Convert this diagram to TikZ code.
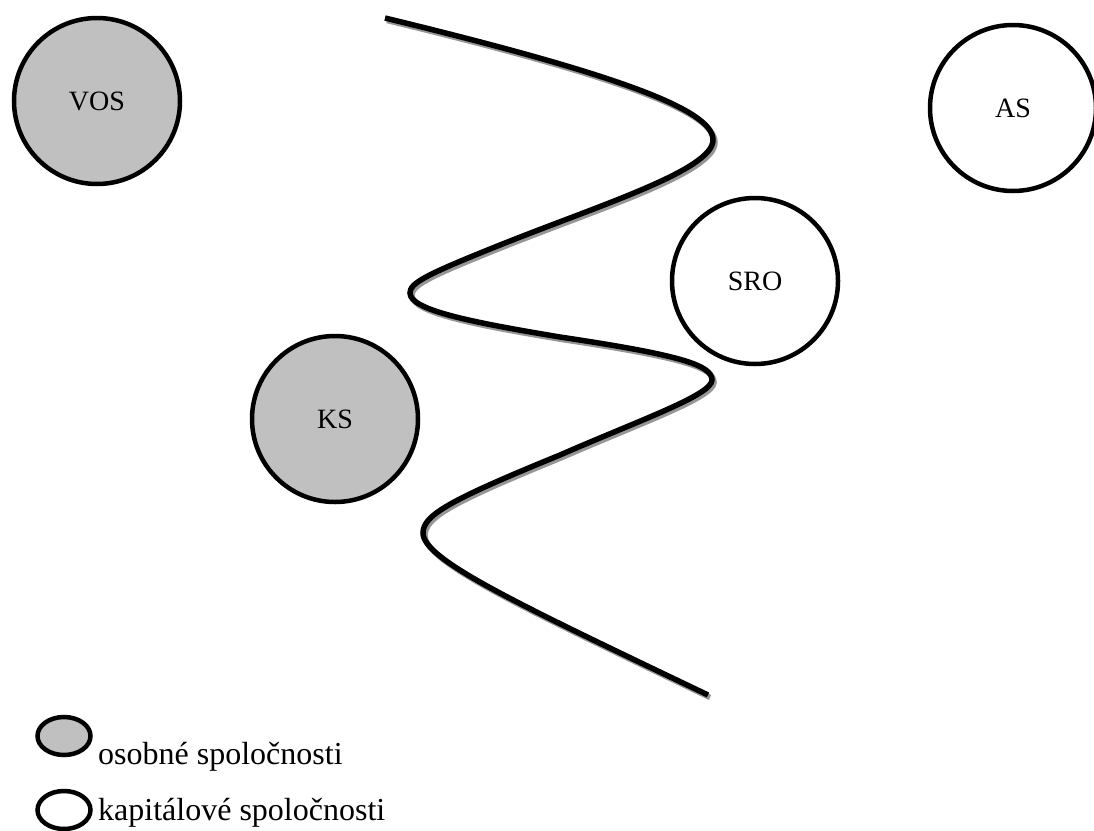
\documentclass[tikz,border=0pt]{standalone}
\usepackage{fontspec}
\setmainfont{Liberation Serif}
\usetikzlibrary{shapes.geometric}
\definecolor{firmgray}{RGB}{192,192,192}
\definecolor{shadowgray}{RGB}{150,150,150}
\tikzset{
	firma/.style={draw, circle, line width=4.5pt, minimum size=166pt, inner sep=0pt, font=\fontsize{28}{30}\selectfont},
	znacka/.style={draw, ellipse, line width=4.5pt, minimum width=53pt, minimum height=38pt, inner sep=0pt},
	popis/.style={anchor=base west, inner sep=0pt, font=\fontsize{32}{36}\selectfont},
	hranica/.style={line width=5.5pt, preaction={draw=shadowgray, line width=5.5pt, transform canvas={shift={(2pt,-2.5pt)}}}}
}

\begin{document}
\begin{tikzpicture}[x=1pt, y=-1pt]
				\useasboundingbox (0,0) rectangle (1094,830);
				\draw [hranica] (385,18) .. controls (620,75) and (713,110) .. (713,140)
					.. controls (713,170) and (600,205) .. (500,245)
					.. controls (425,275) and (410,283) .. (410,293)
					.. controls (410,310) and (470,322) .. (560,337)
					.. controls (680,355) and (712,365) .. (712,380)
					.. controls (712,395) and (640,420) .. (560,455)
					.. controls (450,500) and (423,515) .. (423,533)
					.. controls (423,560) and (520,605) .. (708,695);
				\node [firma, fill=firmgray] (vos) at (97,101) {VOS};
				\node [firma] (as) at (1013,108) {AS};
				\node [firma] (sro) at (755,281) {SRO};
				\node [firma, fill=firmgray] (ks) at (335,419) {KS};
				\node [znacka, fill=firmgray] (osobne) at (64,736) {};
				\node [znacka] (kapitalove) at (64,810) {};
				\node [popis] (osobnetext) at (98,764) {osobné spoločnosti};
				\node [popis] (kapitalovetext) at (98,820) {kapitálové spoločnosti};
			\end{tikzpicture}
\end{document}
